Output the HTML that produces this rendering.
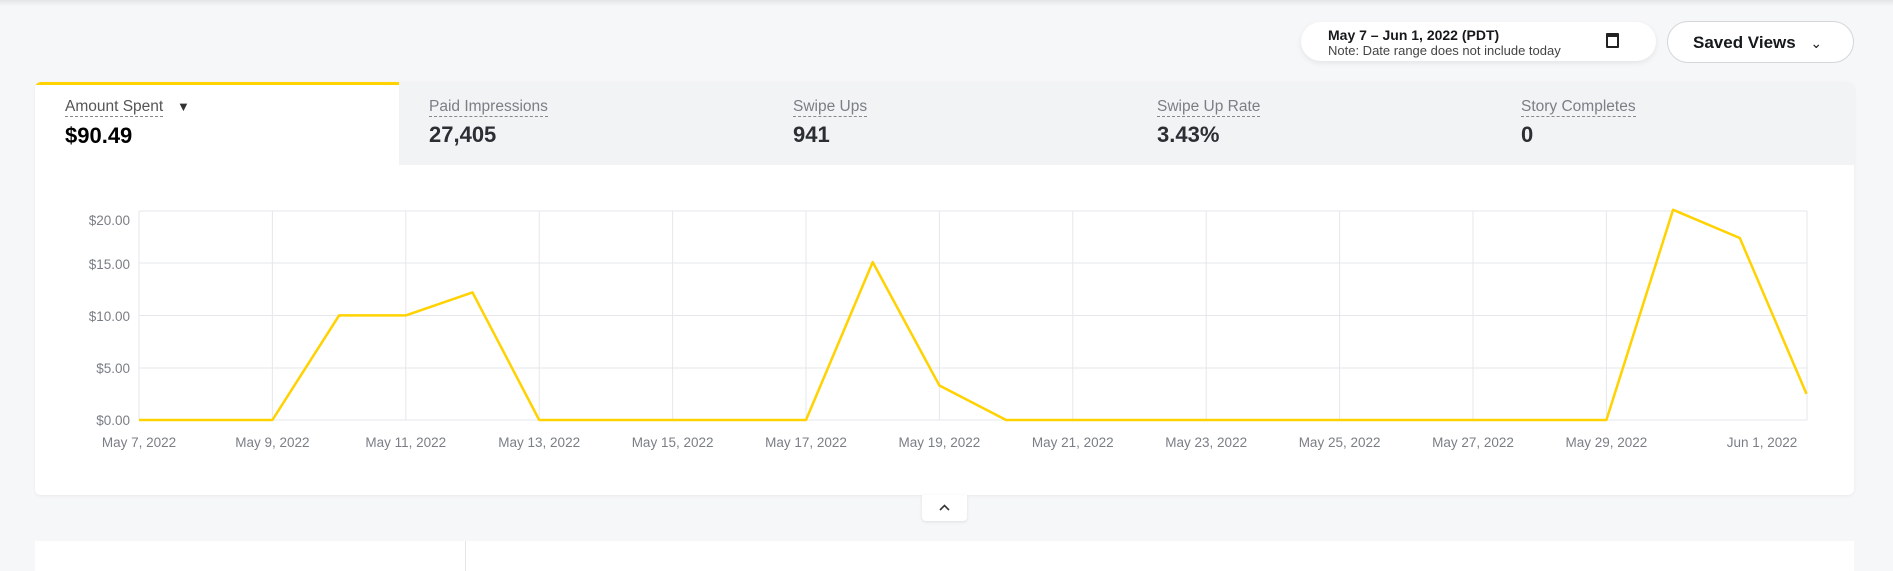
<!DOCTYPE html>
<html><head><meta charset="utf-8"><style>
*{box-sizing:border-box;margin:0;padding:0}
body{width:1893px;height:558px;background:#f6f7f9;font-family:"Liberation Sans",sans-serif;position:relative;overflow:hidden}
.topsh{position:absolute;left:0;top:0;width:1893px;height:6px;background:linear-gradient(#e3e4e7,#f6f7f9)}
.pill{position:absolute;left:1301px;top:22px;width:355px;height:39px;background:#fff;border-radius:20px;box-shadow:0 2px 6px rgba(0,0,0,.08)}
.pill .a{position:absolute;left:27px;top:5px;font-size:14px;font-weight:bold;color:#16191c}
.pill .b{position:absolute;left:27px;top:21px;font-size:13px;color:#444}
.cal{position:absolute;left:305px;top:11px;width:13px;height:15px;border:2px solid #222;border-top-width:4px;border-radius:1px}
.sv{position:absolute;left:1667px;top:21px;width:187px;height:42px;background:#fff;border:1px solid #d4d6da;border-radius:21px;font-size:17px;font-weight:bold;color:#16191c;padding:11px 0 0 25px}
.card{position:absolute;left:35px;top:82px;width:1819px;height:413px;background:#fff;border-radius:6px;box-shadow:0 1px 3px rgba(0,0,0,.06);overflow:hidden}
.tabs{position:absolute;left:0;top:0;width:1819px;height:83px;background:#f2f3f5}
.tab{position:absolute;top:0;width:364px;height:83px}
.tab.act{background:#fff;border-top:3px solid #ffd200}
.tab .l{position:absolute;left:30px;top:15px;font-size:15.5px;color:#7a7e85;border-bottom:1px dashed #888;line-height:19px}
.tab.act .l{color:#555;top:12px}
.tab .v{position:absolute;left:30px;top:40px;font-size:22px;font-weight:bold;color:#2b2e33}
.tab.act .v{color:#000;top:38px}
.btn{position:absolute;left:922px;top:495px;width:45px;height:26px;background:#fff;border-radius:0 0 4px 4px;box-shadow:0 1px 3px rgba(0,0,0,.1)}
.low{position:absolute;left:35px;top:541px;width:1819px;height:30px;background:#fff}
.low div{position:absolute;left:430px;top:0;width:1px;height:30px;background:#e4e5e8}
</style></head><body>
<div class="topsh"></div>
<div class="pill"><div class="a">May 7 – Jun 1, 2022 (PDT)</div><div class="b">Note: Date range does not include today</div><div class="cal"></div></div>
<div class="sv">Saved Views <span style="font-weight:normal;font-size:14px;margin-left:10px">&#8964;</span></div>
<div class="card">
<div class="tabs">
<div class="tab act" style="left:0"><div class="l">Amount Spent</div><span style="position:absolute;left:142px;top:14px;font-size:13px;color:#333">▼</span><div class="v">$90.49</div></div>
<div class="tab" style="left:364px"><div class="l">Paid Impressions</div><div class="v">27,405</div></div>
<div class="tab" style="left:728px"><div class="l">Swipe Ups</div><div class="v">941</div></div>
<div class="tab" style="left:1092px"><div class="l">Swipe Up Rate</div><div class="v">3.43%</div></div>
<div class="tab" style="left:1456px"><div class="l">Story Completes</div><div class="v">0</div></div>
</div>
</div>
<svg style="position:absolute;left:0;top:0" width="1893" height="558">
<g stroke="#e6e7ea" stroke-width="1">
<line x1="139" y1="211" x2="1807" y2="211"/><line x1="139" y1="263" x2="1807" y2="263"/><line x1="139" y1="315.5" x2="1807" y2="315.5"/><line x1="139" y1="368" x2="1807" y2="368"/><line x1="139" y1="420" x2="1807" y2="420"/>
<line x1="1807" y1="211" x2="1807" y2="420"/>
</g>
<g id="vg" stroke="#e6e7ea"></g>
<g font-size="13.5" fill="#7a7e85" text-anchor="end">
<text x="130" y="225">$20.00</text><text x="130" y="269">$15.00</text><text x="130" y="321">$10.00</text><text x="130" y="373">$5.00</text><text x="130" y="425">$0.00</text>
</g>
<g id="xl" font-size="13.5" fill="#7a7e85" text-anchor="middle"></g>
<polyline id="ln" fill="none" stroke="#ffd200" stroke-width="2.5" stroke-linejoin="round"/>
</svg>
<div class="btn"><svg width="45" height="26"><polyline points="18,15 22.5,10.5 27,15" fill="none" stroke="#333" stroke-width="1.6"/></svg></div>
<div class="low"><div></div></div>
<script>
var x0=139,dx=66.7,y0=420,ys=10.46;
var vals=[0,0,0,10,10,12.2,0,0,0,0,0,15.1,3.3,0,0,0,0,0,0,0,0,0,0,20.1,17.4,2.5];
var pts=vals.map(function(v,i){return (x0+i*dx).toFixed(1)+","+(y0-v*ys).toFixed(1)}).join(" ");
document.getElementById("ln").setAttribute("points",pts);
var ns="http://www.w3.org/2000/svg",vg=document.getElementById("vg"),xl=document.getElementById("xl");
var labs=["May 7, 2022","May 9, 2022","May 11, 2022","May 13, 2022","May 15, 2022","May 17, 2022","May 19, 2022","May 21, 2022","May 23, 2022","May 25, 2022","May 27, 2022","May 29, 2022"];
for(var i=0;i<12;i++){var x=x0+i*2*dx;var l=document.createElementNS(ns,"line");l.setAttribute("x1",x);l.setAttribute("x2",x);l.setAttribute("y1",211);l.setAttribute("y2",420);vg.appendChild(l);
var t=document.createElementNS(ns,"text");t.setAttribute("x",x);t.setAttribute("y",447);t.textContent=labs[i];xl.appendChild(t);}
var t=document.createElementNS(ns,"text");t.setAttribute("x",1762);t.setAttribute("y",447);t.textContent="Jun 1, 2022";xl.appendChild(t);
</script>
</body></html>
